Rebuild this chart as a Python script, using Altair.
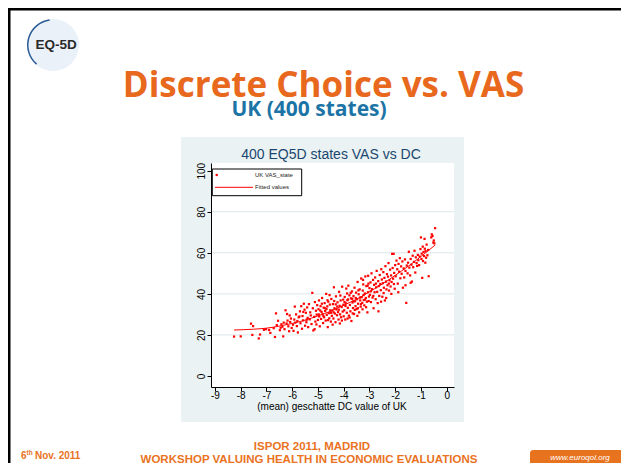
import altair as alt
import pandas as pd

# ---------------- data ----------------
# scatter: (mean DC value, VAS) grouped by DC range
bin_a = [(-8.26,19.2),(-8.0,19.3),(-7.6,25.5),(-7.52,24.3),(-7.55,20.0),(-7.3,18.3),(-7.25,20.2),(-7.02,22.8),(-7.1,22.5)]
bin_b = [(-6.85,21.0),(-6.67,19.0),(-6.63,30.5),(-6.55,26.9),(-6.45,23.5),(-6.42,25.2),(-6.38,24.0),(-6.35,19.3),
         (-6.3,22.8),(-6.26,32.0),(-6.22,25.6),(-6.2,30.2),(-6.18,27.0),(-6.15,24.2),(-6.12,21.8),(-6.08,26.3),
         (-6.05,28.0),(-6.02,23.4),(-6.48,22.3),(-6.6,24.8),(-6.72,23.3),(-6.9,22.4),(-6.33,26.0),(-6.1,29.5)]
bin_c = [(-5.97,25.0),(-5.95,22.0),(-5.92,27.5),(-5.9,33.8),(-5.85,30.0),(-5.82,24.3),(-5.8,26.8),(-5.78,21.2),
         (-5.75,28.6),(-5.7,31.5),(-5.68,25.7),(-5.65,34.0),(-5.62,23.0),(-5.6,29.2),(-5.58,27.1),(-5.55,35.2),
         (-5.52,32.3),(-5.5,24.5),(-5.47,30.8),(-5.45,26.2),(-5.42,33.4),(-5.4,28.3),(-5.38,23.8),(-5.35,35.0),
         (-5.32,27.6),(-5.3,31.0),(-5.28,29.5),(-5.25,25.3),(-5.22,40.5),(-5.2,33.0),(-5.18,22.2),(-5.15,28.8),
         (-5.12,36.0),(-5.1,26.5),(-5.08,31.8),(-5.05,29.9),(-5.03,34.5),(-5.0,27.3),(-5.88,26.0),(-5.72,29.0),
         (-5.57,31.2),(-5.44,27.4),(-5.13,22.8),(-5.06,25.1)]
bin_d = [(-4.98,32.5),(-4.96,36.8),(-4.95,29.0),(-4.93,24.2),(-4.9,34.0),(-4.88,27.8),(-4.86,31.2),(-4.84,38.0),
         (-4.82,30.1),(-4.8,25.8),(-4.78,33.3),(-4.76,28.6),(-4.74,35.5),(-4.72,31.6),(-4.7,27.0),(-4.68,40.0),
         (-4.66,29.8),(-4.64,33.9),(-4.62,23.8),(-4.6,36.2),(-4.58,30.6),(-4.56,28.1),(-4.54,34.8),(-4.52,32.0),
         (-4.5,26.5),(-4.48,37.5),(-4.46,29.3),(-4.44,31.9),(-4.42,35.0),(-4.4,28.0),(-4.38,43.2),(-4.36,33.0),
         (-4.34,30.4),(-4.32,26.2),(-4.3,38.8),(-4.28,32.4),(-4.26,29.6),(-4.24,35.9),(-4.22,31.1),(-4.2,27.5),
         (-4.18,41.0),(-4.16,34.2),(-4.14,30.0),(-4.12,36.8),(-4.1,28.6),(-4.08,33.6),(-4.06,43.5),(-4.04,31.4),
         (-4.02,37.2),(-4.0,29.1),(-4.97,30.0),(-4.85,35.2),(-4.73,33.0),(-4.61,27.2),(-4.49,30.8),(-4.37,36.5),
         (-4.25,33.8),(-4.13,39.2),(-4.01,34.7),(-4.91,31.9),(-4.79,29.2),(-4.67,32.6),(-4.55,39.4),(-4.43,25.0),
         (-4.31,34.9),(-4.19,32.3),(-4.07,27.0),(-4.63,36.9),(-4.39,31.0),(-4.15,25.6)]
bin_e = [(-3.98,32.0),(-3.96,38.5),(-3.94,27.5),(-3.92,35.4),(-3.9,42.6),(-3.88,30.8),(-3.86,36.9),(-3.84,33.2),
         (-3.82,44.0),(-3.8,29.4),(-3.78,39.3),(-3.76,34.6),(-3.74,31.5),(-3.72,37.8),(-3.7,26.8),(-3.68,41.2),
         (-3.66,35.8),(-3.64,33.1),(-3.62,38.9),(-3.6,30.2),(-3.58,43.0),(-3.56,36.4),(-3.54,34.0),(-3.52,40.6),
         (-3.5,32.6),(-3.48,37.4),(-3.46,45.8),(-3.44,35.2),(-3.42,39.8),(-3.4,31.0),(-3.38,42.2),(-3.36,36.8),
         (-3.34,33.8),(-3.32,47.5),(-3.3,38.4),(-3.28,35.6),(-3.26,41.6),(-3.24,44.6),(-3.22,37.0),(-3.2,34.4),
         (-3.18,40.2),(-3.16,48.5),(-3.14,38.0),(-3.12,43.8),(-3.1,36.2),(-3.08,31.0),(-3.06,40.8),(-3.04,45.0),
         (-3.02,38.7),(-3.0,42.8),(-3.97,36.0),(-3.87,40.2),(-3.77,28.5),(-3.67,37.6),(-3.57,32.2),(-3.47,29.3),
         (-3.37,38.2),(-3.27,32.5),(-3.17,37.2),(-3.07,44.0),(-3.93,34.1),(-3.83,37.3),(-3.73,40.5),(-3.63,36.3),
         (-3.53,38.0),(-3.43,41.7),(-3.33,35.0),(-3.23,39.4),(-3.13,33.5),(-3.03,36.5),(-3.85,28.0),(-3.65,30.5),
         (-3.45,33.0),(-3.25,46.8),(-3.05,48.8)]
bin_f = [(-2.98,39.5),(-2.96,45.6),(-2.94,36.0),(-2.92,50.0),(-2.9,42.3),(-2.88,38.2),(-2.86,46.8),(-2.84,33.0),
         (-2.82,44.4),(-2.8,40.8),(-2.78,48.0),(-2.76,37.4),(-2.74,43.2),(-2.72,51.2),(-2.7,41.0),(-2.68,35.5),
         (-2.66,46.2),(-2.64,43.8),(-2.62,39.0),(-2.6,49.2),(-2.58,44.8),(-2.56,41.8),(-2.54,52.0),(-2.52,47.0),
         (-2.5,38.6),(-2.48,45.2),(-2.46,50.6),(-2.44,43.0),(-2.42,47.8),(-2.4,36.8),(-2.38,53.5),(-2.36,46.0),
         (-2.34,42.2),(-2.32,49.6),(-2.3,44.2),(-2.28,48.4),(-2.26,55.0),(-2.24,41.6),(-2.22,46.6),(-2.2,51.8),
         (-2.18,43.6),(-2.16,49.0),(-2.14,45.8),(-2.12,59.5),(-2.1,52.6),(-2.08,47.4),(-2.06,59.5),(-2.04,50.2),
         (-2.02,42.5),(-2.0,54.0),(-2.95,41.2),(-2.85,39.0),(-2.75,45.0),(-2.65,31.5),(-2.55,36.2),(-2.45,40.4),
         (-2.35,38.0),(-2.25,45.0),(-2.15,40.0),(-2.05,44.8)]
bin_g = [(-1.98,48.6),(-1.95,56.2),(-1.92,52.0),(-1.9,45.0),(-1.87,54.6),(-1.85,50.8),(-1.82,57.4),(-1.8,47.6),
         (-1.77,53.4),(-1.75,49.8),(-1.72,55.8),(-1.7,43.0),(-1.67,52.4),(-1.65,48.0),(-1.62,56.8),(-1.6,51.2),
         (-1.57,35.6),(-1.55,53.8),(-1.52,50.0),(-1.5,55.2),(-1.47,60.5),(-1.45,52.8),(-1.42,49.0),(-1.4,57.0),
         (-1.37,54.2),(-1.35,46.0),(-1.32,58.6),(-1.3,53.0),(-1.27,55.6),(-1.25,61.0),(-1.22,50.4),(-1.2,57.8),
         (-1.17,55.0),(-1.15,53.6),(-1.12,59.0),(-1.1,56.4),(-1.07,54.0),(-1.05,58.2),(-1.02,61.8),(-1.88,40.8),
         (-1.6,44.2),(-1.4,45.4)]
bin_h = [(-1.0,67.5),(-0.98,57.0),(-0.97,59.6),(-0.95,47.8),(-0.93,63.0),(-0.92,56.0),(-0.9,60.4),(-0.88,58.4),
         (-0.86,66.8),(-0.85,62.0),(-0.83,55.2),(-0.82,60.8),(-0.8,57.6),(-0.78,64.0),(-0.75,58.8),(-0.72,61.4),
         (-0.7,48.6),(-0.6,67.5),(-0.58,69.0),(-0.55,68.2),(-0.52,65.0),(-0.5,66.0),(-0.48,64.6),(-0.45,72.0)]

# fitted values curve
fit_x = [-8.26, -7.5, -7.0, -6.5, -6.0, -5.5, -5.0, -4.5, -4.0, -3.5, -3.0, -2.5, -2.0, -1.5, -1.0, -0.7, -0.45]
fit_y = [22.4, 22.8, 23.3, 24.3, 25.6, 27.2, 29.3, 31.6, 34.5, 37.4, 41.0, 44.8, 49.0, 53.4, 58.2, 61.2, 63.8]

x_ticks = [-9, -8, -7, -6, -5, -4, -3, -2, -1, 0]
y_ticks = [0, 20, 40, 60, 80, 100]
grid_y = [20, 40, 60, 80]

chart_title = "400 EQ5D states VAS vs DC"
x_title = "(mean) geschatte DC value of UK"
legend_labels = ["UK VAS_state", "Fitted values"]
slide_title = "Discrete Choice vs. VAS"
slide_subtitle = "UK (400 states)"
footer_1 = "ISPOR 2011, MADRID"
footer_2 = "WORKSHOP VALUING HEALTH IN ECONOMIC EVALUATIONS"
footer_date = ["6", "th", "Nov. 2011"]
url_text = "www.euroqol.org"
logo_text = "EQ-5D"

# ---------------- build ----------------
pts = bin_a + bin_b + bin_c + bin_d + bin_e + bin_f + bin_g + bin_h
scatter_df = pd.DataFrame(pts, columns=["dc", "vas"])
fit_df = pd.DataFrame({"dc": fit_x, "vas": fit_y})
grid_df = pd.DataFrame({"g": grid_y})
one = pd.DataFrame({"k": [0]})

W, H = 243, 224
OX, OY = 211, 163  # page position of plot origin


def px(X):
    return X - OX


def py(Y):
    return Y - OY


xs = alt.Scale(domain=[-9.155, 0.284], nice=False, zero=False)
ys = alt.Scale(domain=[-5.36, 103.75], nice=False, zero=False)

ORANGE = "#E8691E"
ORANGE2 = "#E9731F"
BLUE = "#1C74A6"
NAVY = "#1A476F"
RED = "#FF0000"
FONT = "Liberation Sans"

x_axis = alt.Axis(values=x_ticks, title=None, grid=False, tickSize=4, zindex=2,
                  domainColor="#000", tickColor="#000", labelColor="#000",
                  labelFont=FONT, labelFontSize=10, labelPadding=-1,
                  labelExpr="datum.value + ''", labelFlush=False)
y_axis = alt.Axis(values=y_ticks, title=None, grid=False, tickSize=4, zindex=2,
                  domainColor="#000", tickColor="#000", labelColor="#000",
                  labelFont=FONT, labelFontSize=10, labelPadding=1,
                  labelAngle=270, labelAlign="center", labelBaseline="bottom", labelFlush=False)


def rect(x1, x2, y1, y2, color, **kw):
    return alt.Chart(one).mark_rect(color=color, **kw).encode(
        x=alt.value(px(x1)), x2=alt.value(px(x2)), y=alt.value(py(y1)), y2=alt.value(py(y2)))


def text(X, Y, s, size, color="#000000", weight="normal", align="center", baseline="alphabetic",
         font=FONT, **kw):
    return alt.Chart(one).mark_text(fontSize=size, color=color, fontWeight=weight, align=align,
                                    baseline=baseline, font=font, **kw).encode(
        x=alt.value(px(X)), y=alt.value(py(Y)), text=alt.value(s))


layers = []
# slide borders
layers.append(rect(8, 621, 8, 10.5, "#000000"))
layers.append(rect(8, 10.5, 8, 463, "#000000"))
# logo
layers.append(alt.Chart(one).mark_arc(theta=0, theta2=6.2832, outerRadius=26, innerRadius=0,
                                      color="#EAF1F8").encode(x=alt.value(px(53)), y=alt.value(py(45))))
layers.append(alt.Chart(one).mark_arc(theta=3.85, theta2=6.15, outerRadius=26, innerRadius=24.5,
                                      color="#2B5C96").encode(x=alt.value(px(53)), y=alt.value(py(45))))
layers.append(text(56, 48.5, logo_text, 13.5, color="#2A2A2A", weight="bold"))
# slide titles
layers.append(text(323.5, 97, slide_title, 35, color=ORANGE, weight="bold", font="Open Sans"))
layers.append(text(309, 116, slide_subtitle, 21, color=BLUE, weight="bold", font="Open Sans"))
# graph panel
layers.append(rect(181, 464, 137, 422, "#EAF2F3"))
layers.append(rect(OX, OX + W, OY, OY + H, "#FFFFFF"))
# grid
layers.append(alt.Chart(grid_df).mark_rule(color="#DCE7EA", strokeWidth=1).encode(
    y=alt.Y("g:Q", scale=ys, axis=y_axis), x=alt.value(0), x2=alt.value(W)))

# scatter with axes
scatter = alt.Chart(scatter_df).mark_square(size=5, color=RED, opacity=1).encode(
    x=alt.X("dc:Q", scale=xs, axis=x_axis),
    y=alt.Y("vas:Q", scale=ys, axis=y_axis),
)
layers.append(scatter)
fit = alt.Chart(fit_df).mark_line(color=RED, strokeWidth=1, interpolate="monotone").encode(
    x=alt.X("dc:Q", scale=xs, axis=x_axis), y=alt.Y("vas:Q", scale=ys, axis=y_axis))
layers.append(fit)

# legend
layers.append(rect(212.3, 301.7, 169, 195.7, "#FFFFFF", stroke="#000000", strokeWidth=1))
layers.append(alt.Chart(one).mark_square(size=5, color=RED, opacity=1).encode(
    x=alt.value(px(216.7)), y=alt.value(py(175))))
layers.append(alt.Chart(one).mark_rule(color=RED, strokeWidth=1).encode(
    x=alt.value(px(215)), x2=alt.value(px(253)), y=alt.value(py(187.3))))
layers.append(text(255, 175, legend_labels[0], 6, color="#222222", align="left", baseline="middle"))
layers.append(text(255, 187.3, legend_labels[1], 6, color="#222222", align="left", baseline="middle"))

# chart title and x title
layers.append(text(331, 155, chart_title, 14, color=NAVY, baseline="middle"))
layers.append(text(332, 407, x_title, 10, color="#000000", baseline="middle"))

# footer
layers.append(text(312, 450, footer_1, 11.5, color=ORANGE2, weight="bold"))
layers.append(text(309, 462.5, footer_2, 11.5, color=ORANGE2, weight="bold"))
layers.append(text(21, 459, footer_date[0], 10, color=ORANGE2, weight="bold", align="left"))
layers.append(text(26.5, 454.5, footer_date[1], 6.5, color=ORANGE2, weight="bold", align="left"))
layers.append(text(35, 459, footer_date[2], 10, color=ORANGE2, weight="bold", align="left"))
layers.append(alt.Chart(one).mark_rect(color="#E8731F", cornerRadius=3).encode(
    x=alt.value(px(530)), x2=alt.value(px(630)), y=alt.value(py(450)), y2=alt.value(py(466))))
layers.append(text(580, 458, url_text, 8, color="#FFFFFF", baseline="middle", fontStyle="italic"))

chart = alt.layer(*layers).properties(
    width=W, height=H,
    padding={"left": OX - 8, "top": OY - 8, "right": 613 - (OX - 8) - W, "bottom": 455 - (OY - 8) - H},
    autosize=alt.AutoSizeParams(type="none"),
    background="#FFFFFF",
).configure_view(strokeWidth=0)

chart.save("out.html", embed_options={"renderer": "svg", "actions": False})
